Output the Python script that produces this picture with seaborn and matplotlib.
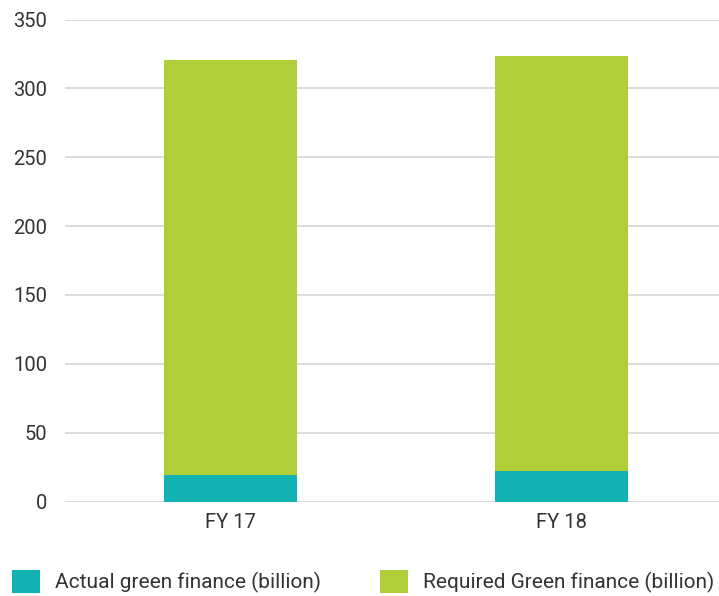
import matplotlib
matplotlib.use("Agg")
import matplotlib.pyplot as plt
import seaborn as sns
import pandas as pd
from matplotlib.patches import Patch

years = ["FY 17", "FY 18"]
actual = [19.5, 22.4]
required = [301.1, 301.1]
y_ticks = [0, 50, 100, 150, 200, 250, 300, 350]

teal = "#12B2B3"
lime = "#B0CE3A"
text_color = "#333333"

sns.set_theme(style="white")
plt.rcParams["font.family"] = ["Roboto", "DejaVu Sans"]

df = pd.DataFrame({
    "year": years,
    "actual": actual,
    "total": [a + r for a, r in zip(actual, required)],
})

fig = plt.figure(figsize=(7.19, 5.96), dpi=100)
ax = fig.add_axes([65 / 719, 94.5 / 596, (719 - 65) / 719, 482 / 596])

# Stacked bars: full height in lime, actual share overlaid in teal
sns.barplot(data=df, x="year", y="total", color=lime, width=0.40,
            saturation=1, linewidth=0, ax=ax, zorder=3)
sns.barplot(data=df, x="year", y="actual", color=teal, width=0.40,
            saturation=1, linewidth=0, ax=ax, zorder=4)

ax.set_ylim(0, 350)
ax.set_xlim(-0.5, 1.476)
ax.set_yticks(y_ticks)
ax.set_yticklabels([str(t) for t in y_ticks])
ax.set_xlabel("")
ax.set_ylabel("")
ax.grid(axis="y", color="#d9d9d9", linewidth=1.3, zorder=0)
ax.grid(axis="x", visible=False)
for s in ax.spines.values():
    s.set_visible(False)
ax.tick_params(axis="y", length=0, pad=13, labelsize=14.5, labelcolor=text_color)
ax.tick_params(axis="x", length=0, pad=8, labelsize=14.5, labelcolor=text_color)

handles = [Patch(facecolor=teal, edgecolor="none", label="Actual green finance (billion)"),
           Patch(facecolor=lime, edgecolor="none", label="Required Green finance (billion)")]
fig.legend(handles=handles, loc="lower left", bbox_to_anchor=(12 / 719, 3 / 596),
           ncol=2, frameon=False, fontsize=15, handlelength=1.35, handleheight=1.35,
           handletextpad=0.72, columnspacing=2.84, borderpad=0, borderaxespad=0,
           labelcolor=text_color)

fig.savefig("out.png", dpi=100)
